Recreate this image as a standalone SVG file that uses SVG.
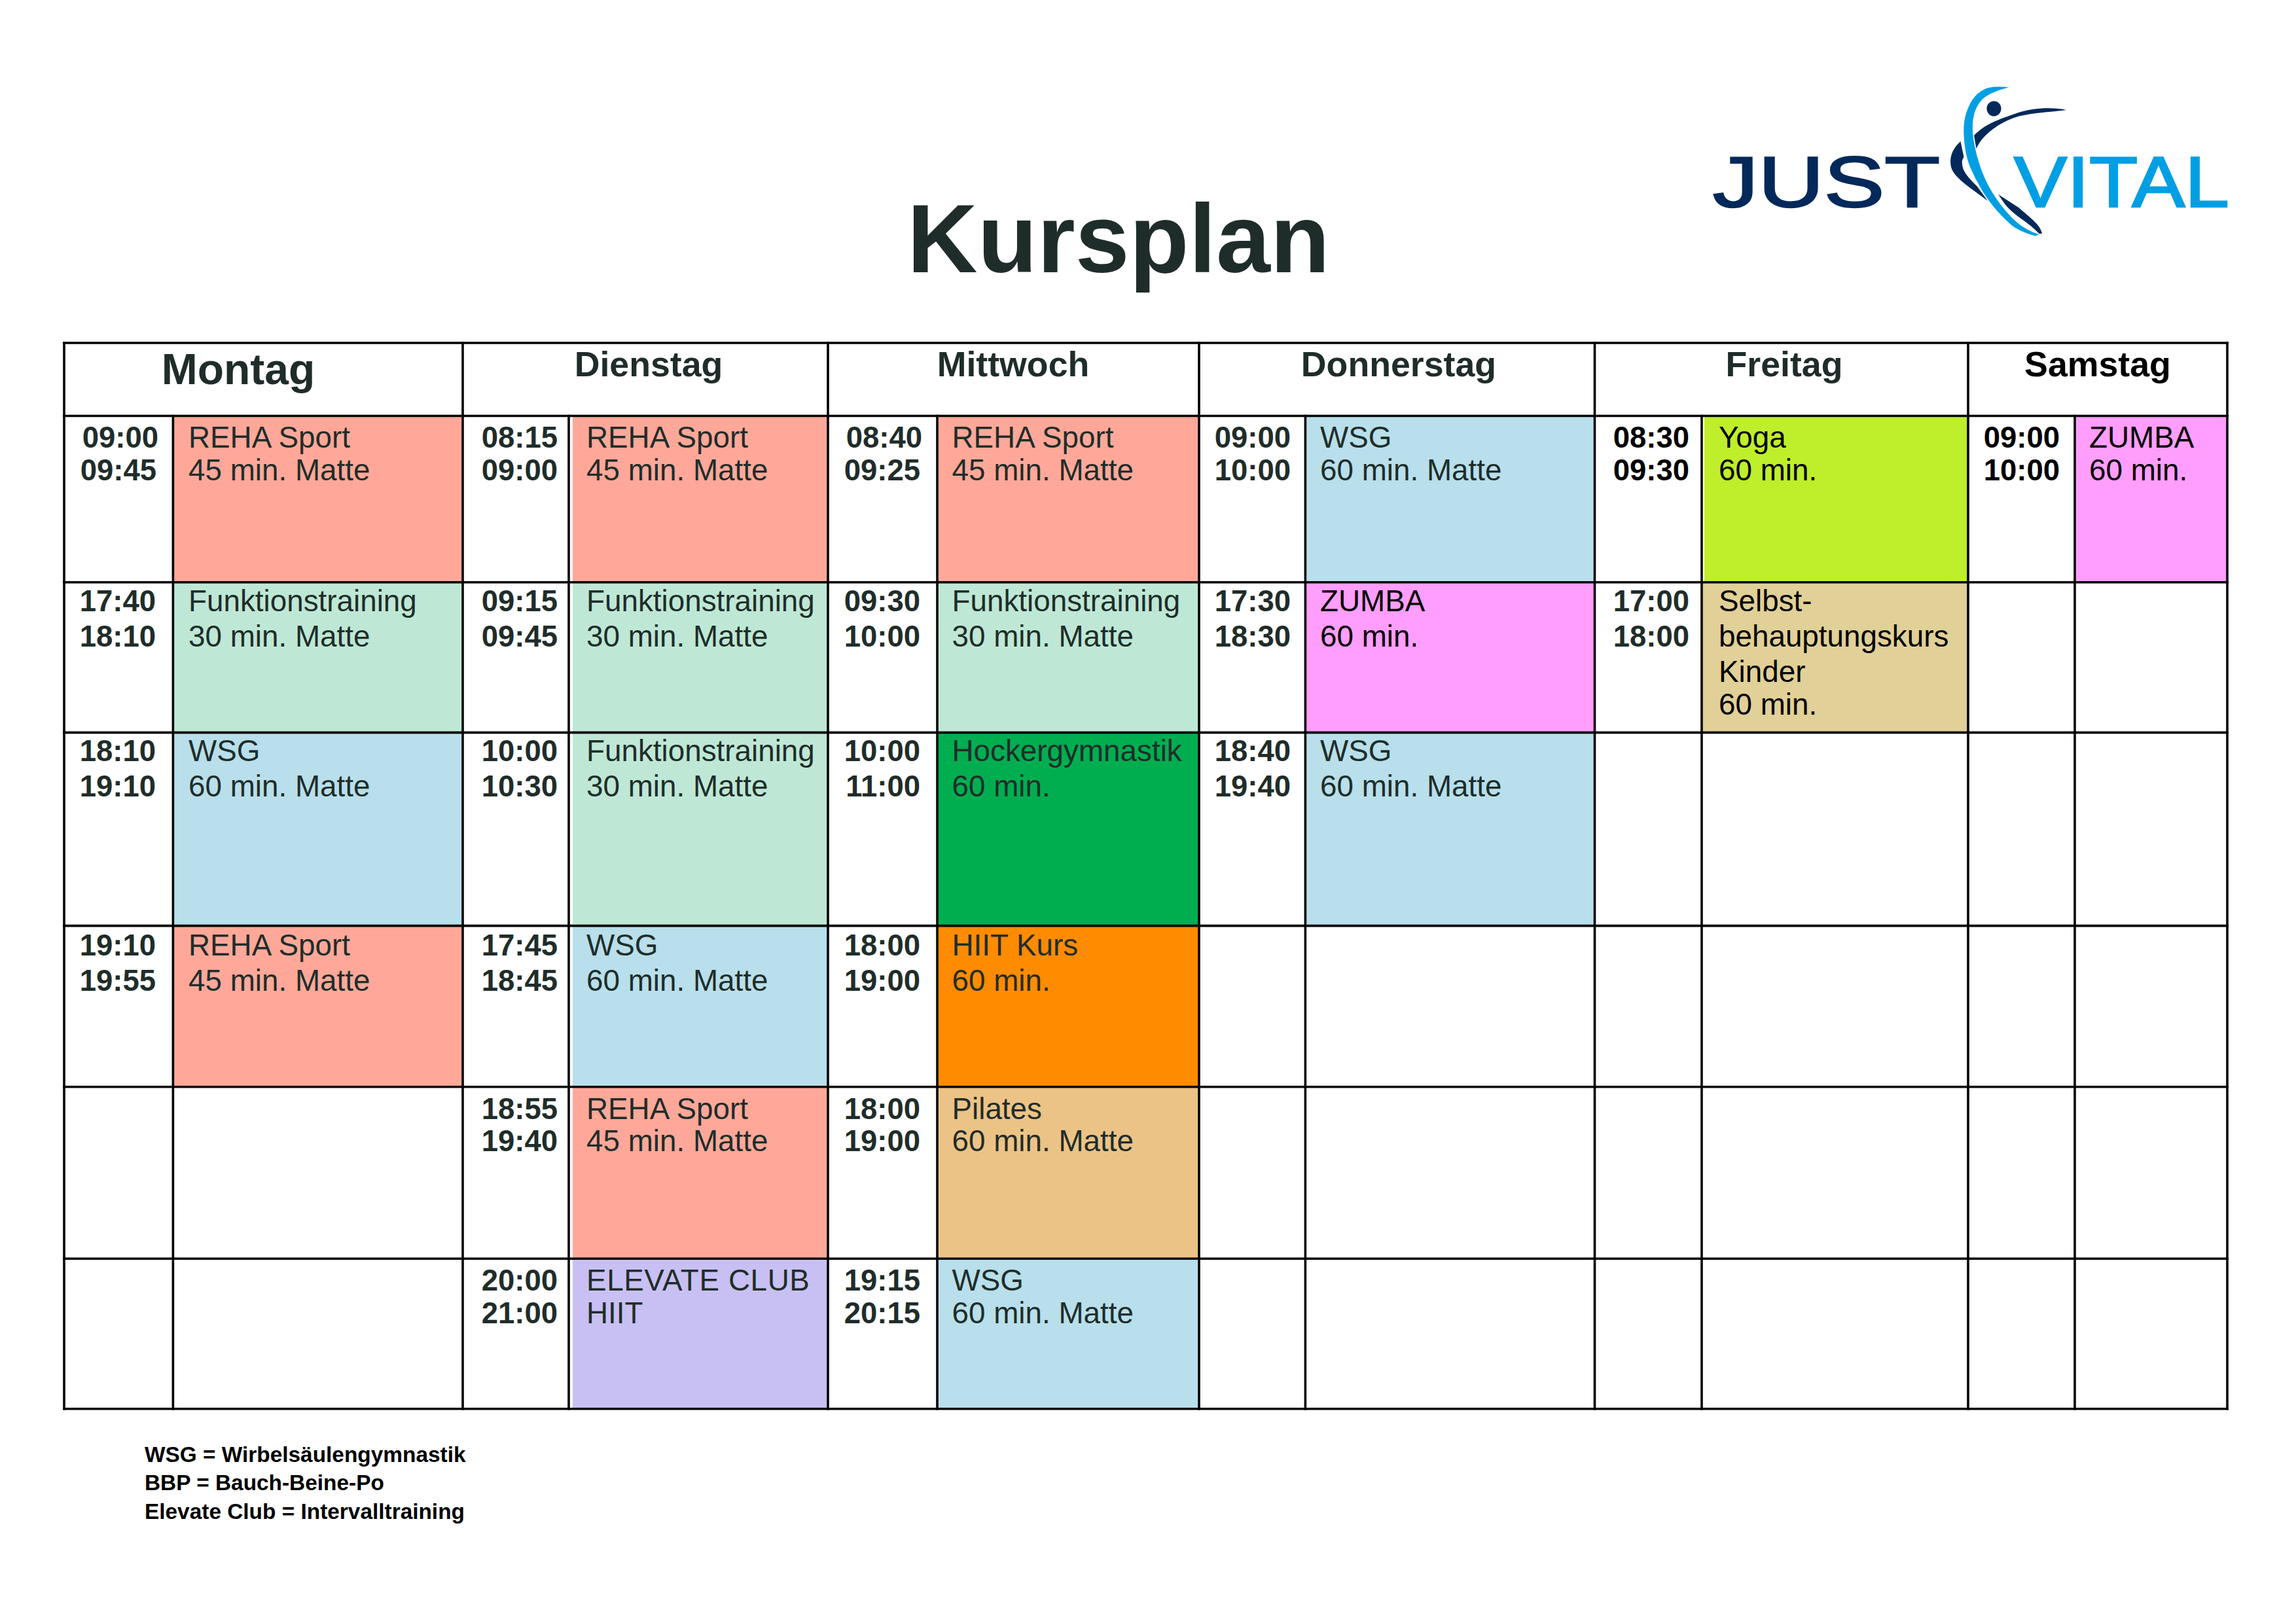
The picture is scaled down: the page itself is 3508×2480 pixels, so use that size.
<svg xmlns="http://www.w3.org/2000/svg" width="3508" height="2480" viewBox="0 0 3508 2480">
<style>
text{font-family:"Liberation Sans",Arial,sans-serif;fill:#1f2d2a}
.title{font-size:149px;font-weight:700;text-anchor:middle}
.day{font-size:53.7px;font-weight:700;text-anchor:middle}
.t{font-size:45.5px;font-weight:700;text-anchor:end}
.l{font-size:45.8px}
.k{fill:#000}
.legend{font-size:33.4px;font-weight:700;fill:#000}
.logo{font-size:110px;stroke-width:2.500px}
.grid line{stroke:#000;stroke-width:3.6px;stroke-linecap:square}
.reha{fill:#ffa899}.funk{fill:#bee8d5}.wsg{fill:#b8dfeb}.zumba{fill:#ff9efc}.yoga{fill:#bfee2b}.selbst{fill:#e1d097}.hock{fill:#00ae50}.hiit{fill:#ff8b00}.pil{fill:#ecc386}.elev{fill:#c8c0f3}
.dark{fill:#03295a}.sky{fill:#009fe3}
</style>
<rect width="3508" height="2480" fill="#fff"/>
<text class="title" x="1709" y="416">Kursplan</text>
<g id="logo">
<text class="logo" x="2617" y="316" textLength="347" lengthAdjust="spacingAndGlyphs" style="fill:#03295a;stroke:#03295a">JUST</text>
<text class="logo" x="3077" y="316" textLength="329" lengthAdjust="spacingAndGlyphs" style="fill:#009fe3;stroke:#009fe3">VITAL</text>
<path class="dark" d="M3157 168C3135 163 3105 165 3084 172C3062 180 3035 187 3016 207L3019.500 227C3028 208 3048 192 3072 182C3095 172 3130 172 3157 168Z"/>
<path class="dark" d="M2995.500 216C2982 228 2978 242 2981 255C2985 272 3015 290 3037 307L3021 285C3008 272 2998 262 2998 250C2997 245 2999 243 3000.500 240Z"/>
<path class="dark" d="M3053 297L3064 313C3078 330 3100 340 3115.500 357L3120 357C3118 345 3105 335 3084 317Z"/>
<path class="sky" d="M3069.500 133.300Q3043.700 130.700 3032.200 136.200Q3020.700 141.700 3013.500 152.500Q3006.400 163.300 3002.600 178.300Q2998.900 193.300 3001.200 216.600Q3003.500 240 3010.600 256.600Q3017.800 273.300 3027.800 290Q3037.900 306.700 3049.400 320Q3060.900 333.300 3072.400 343.300Q3083.900 353.300 3109.700 360.700L3115.400 358.300Q3095.300 351.700 3081 339.200Q3066.700 326.700 3052.400 306.700Q3038 286.700 3029.400 265Q3020.700 243.300 3016.400 220Q3012.100 196.700 3015 180Q3017.900 163.300 3028 152.500Q3038 141.700 3069.500 133.300Z"/>
<ellipse class="dark" cx="3046.500" cy="166" rx="11" ry="11.500"/>
</g>
<g id="day-headers">
<text class="day" x="364" y="587" style="font-size:66px">Montag</text>
<text class="day" x="991" y="575">Dienstag</text>
<text class="day" x="1548" y="575">Mittwoch</text>
<text class="day" x="2137" y="575">Donnerstag</text>
<text class="day" x="2726" y="575">Freitag</text>
<text class="day k" x="3205" y="575">Samstag</text>
</g>

<g id="mo-1"><rect class="reha" x="264" y="636" width="443" height="254"/><text class="t" x="242" y="684">09:00</text><text class="t" x="239" y="734">09:45</text><text class="l" x="288" y="684">REHA Sport</text><text class="l" x="288" y="734">45 min. Matte</text></g>
<g id="mo-2"><rect class="funk" x="264" y="890" width="443" height="230"/><text class="t" x="238" y="934">17:40</text><text class="t" x="238" y="988">18:10</text><text class="l" x="288" y="934">Funktionstraining</text><text class="l" x="288" y="988">30 min. Matte</text></g>
<g id="mo-3"><rect class="wsg" x="264" y="1119" width="443" height="296"/><text class="t" x="238" y="1163">18:10</text><text class="t" x="238" y="1217">19:10</text><text class="l" x="288" y="1163">WSG</text><text class="l" x="288" y="1217">60 min. Matte</text></g>
<g id="mo-4"><rect class="reha" x="264" y="1415" width="443" height="246"/><text class="t" x="238" y="1460">19:10</text><text class="t" x="238" y="1514">19:55</text><text class="l" x="288" y="1460">REHA Sport</text><text class="l" x="288" y="1514">45 min. Matte</text></g>

<g id="di-1"><rect class="reha" x="875" y="636" width="390" height="254"/><text class="t" x="852" y="684">08:15</text><text class="t" x="852" y="734">09:00</text><text class="l" x="896" y="684">REHA Sport</text><text class="l" x="896" y="734">45 min. Matte</text></g>
<g id="di-2"><rect class="funk" x="875" y="890" width="390" height="230"/><text class="t" x="852" y="934">09:15</text><text class="t" x="852" y="988">09:45</text><text class="l" x="896" y="934">Funktionstraining</text><text class="l" x="896" y="988">30 min. Matte</text></g>
<g id="di-3"><rect class="funk" x="875" y="1119" width="390" height="296"/><text class="t" x="852" y="1163">10:00</text><text class="t" x="852" y="1217">10:30</text><text class="l" x="896" y="1163">Funktionstraining</text><text class="l" x="896" y="1217">30 min. Matte</text></g>
<g id="di-4"><rect class="wsg" x="875" y="1415" width="390" height="246"/><text class="t" x="852" y="1460">17:45</text><text class="t" x="852" y="1514">18:45</text><text class="l" x="896" y="1460">WSG</text><text class="l" x="896" y="1514">60 min. Matte</text></g>
<g id="di-5"><rect class="reha" x="875" y="1661" width="390" height="263"/><text class="t" x="852" y="1710">18:55</text><text class="t" x="852" y="1759">19:40</text><text class="l" x="896" y="1710">REHA Sport</text><text class="l" x="896" y="1759">45 min. Matte</text></g>
<g id="di-6"><rect class="elev" x="875" y="1923" width="390" height="230"/><text class="t" x="852" y="1972">20:00</text><text class="t" x="852" y="2022">21:00</text><text class="l" x="896" y="1972" style="letter-spacing:.6px">ELEVATE CLUB</text><text class="l" x="896" y="2022">HIIT</text></g>

<g id="mi-1"><rect class="reha" x="1432" y="636" width="400" height="254"/><text class="t" x="1409" y="684">08:40</text><text class="t" x="1406" y="734">09:25</text><text class="l" x="1454.500" y="684">REHA Sport</text><text class="l" x="1454.500" y="734">45 min. Matte</text></g>
<g id="mi-2"><rect class="funk" x="1432" y="890" width="400" height="230"/><text class="t" x="1406" y="934">09:30</text><text class="t" x="1406" y="988">10:00</text><text class="l" x="1454.500" y="934">Funktionstraining</text><text class="l" x="1454.500" y="988">30 min. Matte</text></g>
<g id="mi-3"><rect class="hock" x="1432" y="1119" width="400" height="296"/><text class="t" x="1406" y="1163">10:00</text><text class="t" x="1406" y="1217">11:00</text><text class="l" x="1454.500" y="1163">Hockergymnastik</text><text class="l" x="1454.500" y="1217">60 min.</text></g>
<g id="mi-4"><rect class="hiit" x="1432" y="1415" width="400" height="246"/><text class="t" x="1406" y="1460">18:00</text><text class="t" x="1406" y="1514">19:00</text><text class="l" x="1454.500" y="1460">HIIT Kurs</text><text class="l" x="1454.500" y="1514">60 min.</text></g>
<g id="mi-5"><rect class="pil" x="1432" y="1661" width="400" height="263"/><text class="t" x="1406" y="1710">18:00</text><text class="t" x="1406" y="1759">19:00</text><text class="l" x="1454.500" y="1710">Pilates</text><text class="l" x="1454.500" y="1759">60 min. Matte</text></g>
<g id="mi-6"><rect class="wsg" x="1432" y="1923" width="400" height="230"/><text class="t" x="1406" y="1972">19:15</text><text class="t" x="1406" y="2022">20:15</text><text class="l" x="1454.500" y="1972">WSG</text><text class="l" x="1454.500" y="2022">60 min. Matte</text></g>

<g id="do-1"><rect class="wsg" x="1994" y="636" width="443" height="254"/><text class="t" x="1972" y="684">09:00</text><text class="t" x="1972" y="734">10:00</text><text class="l" x="2017" y="684">WSG</text><text class="l" x="2017" y="734">60 min. Matte</text></g>
<g id="do-2"><rect class="zumba" x="1994" y="890" width="443" height="230"/><text class="t" x="1972" y="934">17:30</text><text class="t" x="1972" y="988">18:30</text><text class="l k" x="2017" y="934">ZUMBA</text><text class="l k" x="2017" y="988">60 min.</text></g>
<g id="do-3"><rect class="wsg" x="1994" y="1119" width="443" height="296"/><text class="t" x="1972" y="1163">18:40</text><text class="t" x="1972" y="1217">19:40</text><text class="l" x="2017" y="1163">WSG</text><text class="l" x="2017" y="1217">60 min. Matte</text></g>

<g id="fr-1"><rect class="yoga" x="2604" y="636" width="403" height="254"/><text class="t k" x="2581" y="684">08:30</text><text class="t k" x="2581" y="734">09:30</text><text class="l k" x="2626" y="684">Yoga</text><text class="l k" x="2626" y="734">60 min.</text></g>
<g id="fr-2"><rect class="selbst" x="2600" y="890" width="407" height="230"/><text class="t" x="2581" y="934">17:00</text><text class="t" x="2581" y="988">18:00</text><text class="l k" x="2626" y="934">Selbst-</text><text class="l k" x="2626" y="988">behauptungskurs</text><text class="l k" x="2626" y="1042">Kinder</text><text class="l k" x="2626" y="1092">60 min.</text></g>

<g id="sa-1"><rect class="zumba" x="3170" y="636" width="233" height="254"/><text class="t k" x="3147" y="684">09:00</text><text class="t k" x="3147" y="734">10:00</text><text class="l k" x="3192" y="684">ZUMBA</text><text class="l k" x="3192" y="734">60 min.</text></g>

<g id="grid" class="grid">
<line x1="98" y1="524" x2="3403" y2="524"/>
<line x1="98" y1="635.500" x2="3403" y2="635.500"/>
<line x1="98" y1="889.700" x2="3403" y2="889.700"/>
<line x1="98" y1="1119.400" x2="3403" y2="1119.400"/>
<line x1="98" y1="1414.600" x2="3403" y2="1414.600"/>
<line x1="98" y1="1660.700" x2="3403" y2="1660.700"/>
<line x1="98" y1="1923.300" x2="3403" y2="1923.300"/>
<line x1="98" y1="2152.800" x2="3403" y2="2152.800"/>
<line x1="98" y1="524" x2="98" y2="2152.800"/>
<line x1="707" y1="524" x2="707" y2="2152.800"/>
<line x1="1265" y1="524" x2="1265" y2="2152.800"/>
<line x1="1832" y1="524" x2="1832" y2="2152.800"/>
<line x1="2436.500" y1="524" x2="2436.500" y2="2152.800"/>
<line x1="3007" y1="524" x2="3007" y2="2152.800"/>
<line x1="3403" y1="524" x2="3403" y2="2152.800"/>
<line x1="264.400" y1="635.500" x2="264.400" y2="2152.800"/>
<line x1="869" y1="635.500" x2="869" y2="2152.800"/>
<line x1="1432" y1="635.500" x2="1432" y2="2152.800"/>
<line x1="1994.400" y1="635.500" x2="1994.400" y2="2152.800"/>
<line x1="2600" y1="635.500" x2="2600" y2="2152.800"/>
<line x1="3170" y1="635.500" x2="3170" y2="2152.800"/>
</g>
<g id="legend">
<text class="legend" x="221" y="2234">WSG = Wirbelsäulengymnastik</text>
<text class="legend" x="221" y="2277">BBP = Bauch-Beine-Po</text>
<text class="legend" x="221" y="2321">Elevate Club = Intervalltraining</text>
</g>
</svg>
